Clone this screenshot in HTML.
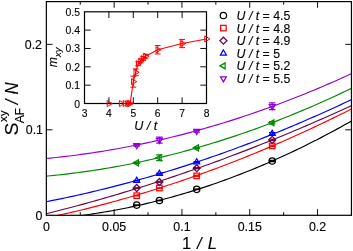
<!DOCTYPE html>
<html><head><meta charset="utf-8"><title>chart</title><style>html,body{margin:0;padding:0;background:#fff}body{width:353px;height:251px;overflow:hidden;font-family:"Liberation Sans",sans-serif}</style></head><body>
<svg width="353" height="251" viewBox="0 0 353 251" style="display:block;will-change:transform;opacity:0.999">
<rect width="353" height="251" fill="#fff"/>
<defs><clipPath id="c"><rect x="46.35" y="1.6" width="305.09999999999997" height="213.70000000000002"/></clipPath></defs>
<g clip-path="url(#c)" fill="none">
<path d="M46.35 219.08 L50.22 218.78 L54.10 218.46 L57.97 218.11 L61.85 217.74 L65.72 217.34 L69.60 216.92 L73.47 216.48 L77.35 216.01 L81.22 215.52 L85.10 215.00 L88.97 214.46 L92.85 213.89 L96.72 213.30 L100.60 212.69 L104.47 212.05 L108.34 211.39 L112.22 210.70 L116.09 209.99 L119.97 209.25 L123.84 208.49 L127.72 207.70 L131.59 206.89 L135.47 206.06 L139.34 205.20 L143.22 204.32 L147.09 203.41 L150.97 202.48 L154.84 201.53 L158.72 200.55 L162.59 199.54 L166.47 198.51 L170.34 197.46 L174.21 196.38 L178.09 195.28 L181.96 194.15 L185.84 193.00 L189.71 191.83 L193.59 190.63 L197.46 189.40 L201.34 188.16 L205.21 186.88 L209.09 185.59 L212.96 184.27 L216.84 182.92 L220.71 181.55 L224.59 180.16 L228.46 178.74 L232.33 177.29 L236.21 175.83 L240.08 174.34 L243.96 172.82 L247.83 171.28 L251.71 169.71 L255.58 168.13 L259.46 166.51 L263.33 164.87 L267.21 163.21 L271.08 161.53 L274.96 159.81 L278.83 158.08 L282.71 156.32 L286.58 154.54 L290.46 152.73 L294.33 150.89 L298.20 149.04 L302.08 147.16 L305.95 145.25 L309.83 143.32 L313.70 141.36 L317.58 139.39 L321.45 137.38 L325.33 135.35 L329.20 133.30 L333.08 131.23 L336.95 129.13 L340.83 127.00 L344.70 124.85 L348.58 122.68 L352.45 120.48" stroke="#000" stroke-width="1.15"/>
<path d="M46.35 217.90 L50.22 217.09 L54.10 216.26 L57.97 215.41 L61.85 214.55 L65.72 213.67 L69.60 212.78 L73.47 211.88 L77.35 210.96 L81.22 210.03 L85.10 209.08 L88.97 208.12 L92.85 207.14 L96.72 206.15 L100.60 205.14 L104.47 204.12 L108.34 203.08 L112.22 202.03 L116.09 200.97 L119.97 199.89 L123.84 198.80 L127.72 197.69 L131.59 196.57 L135.47 195.43 L139.34 194.28 L143.22 193.11 L147.09 191.93 L150.97 190.73 L154.84 189.52 L158.72 188.30 L162.59 187.06 L166.47 185.81 L170.34 184.54 L174.21 183.25 L178.09 181.96 L181.96 180.64 L185.84 179.32 L189.71 177.98 L193.59 176.62 L197.46 175.25 L201.34 173.87 L205.21 172.47 L209.09 171.05 L212.96 169.62 L216.84 168.18 L220.71 166.72 L224.59 165.25 L228.46 163.77 L232.33 162.26 L236.21 160.75 L240.08 159.22 L243.96 157.67 L247.83 156.11 L251.71 154.54 L255.58 152.95 L259.46 151.35 L263.33 149.73 L267.21 148.10 L271.08 146.45 L274.96 144.79 L278.83 143.11 L282.71 141.42 L286.58 139.72 L290.46 138.00 L294.33 136.26 L298.20 134.52 L302.08 132.75 L305.95 130.97 L309.83 129.18 L313.70 127.37 L317.58 125.55 L321.45 123.72 L325.33 121.87 L329.20 120.00 L333.08 118.12 L336.95 116.23 L340.83 114.32 L344.70 112.40 L348.58 110.46 L352.45 108.50" stroke="#ff0000" stroke-width="1.15"/>
<path d="M46.35 213.69 L50.22 212.72 L54.10 211.75 L57.97 210.77 L61.85 209.77 L65.72 208.77 L69.60 207.75 L73.47 206.72 L77.35 205.69 L81.22 204.64 L85.10 203.58 L88.97 202.51 L92.85 201.43 L96.72 200.35 L100.60 199.25 L104.47 198.13 L108.34 197.01 L112.22 195.88 L116.09 194.74 L119.97 193.59 L123.84 192.42 L127.72 191.25 L131.59 190.07 L135.47 188.87 L139.34 187.67 L143.22 186.45 L147.09 185.22 L150.97 183.99 L154.84 182.74 L158.72 181.48 L162.59 180.21 L166.47 178.93 L170.34 177.64 L174.21 176.34 L178.09 175.03 L181.96 173.71 L185.84 172.38 L189.71 171.04 L193.59 169.69 L197.46 168.32 L201.34 166.95 L205.21 165.56 L209.09 164.17 L212.96 162.76 L216.84 161.35 L220.71 159.92 L224.59 158.48 L228.46 157.04 L232.33 155.58 L236.21 154.11 L240.08 152.63 L243.96 151.14 L247.83 149.64 L251.71 148.13 L255.58 146.61 L259.46 145.08 L263.33 143.53 L267.21 141.98 L271.08 140.42 L274.96 138.84 L278.83 137.26 L282.71 135.66 L286.58 134.06 L290.46 132.44 L294.33 130.82 L298.20 129.18 L302.08 127.53 L305.95 125.87 L309.83 124.20 L313.70 122.53 L317.58 120.84 L321.45 119.14 L325.33 117.42 L329.20 115.70 L333.08 113.97 L336.95 112.23 L340.83 110.48 L344.70 108.71 L348.58 106.94 L352.45 105.15" stroke="#670748" stroke-width="1.15"/>
<path d="M46.35 201.69 L50.22 200.93 L54.10 200.16 L57.97 199.37 L61.85 198.57 L65.72 197.76 L69.60 196.93 L73.47 196.09 L77.35 195.23 L81.22 194.36 L85.10 193.48 L88.97 192.58 L92.85 191.67 L96.72 190.74 L100.60 189.81 L104.47 188.85 L108.34 187.89 L112.22 186.91 L116.09 185.91 L119.97 184.90 L123.84 183.88 L127.72 182.85 L131.59 181.80 L135.47 180.74 L139.34 179.66 L143.22 178.57 L147.09 177.46 L150.97 176.34 L154.84 175.21 L158.72 174.07 L162.59 172.91 L166.47 171.73 L170.34 170.55 L174.21 169.34 L178.09 168.13 L181.96 166.90 L185.84 165.66 L189.71 164.40 L193.59 163.13 L197.46 161.85 L201.34 160.55 L205.21 159.24 L209.09 157.91 L212.96 156.57 L216.84 155.22 L220.71 153.85 L224.59 152.47 L228.46 151.07 L232.33 149.67 L236.21 148.24 L240.08 146.81 L243.96 145.36 L247.83 143.89 L251.71 142.42 L255.58 140.92 L259.46 139.42 L263.33 137.90 L267.21 136.37 L271.08 134.82 L274.96 133.26 L278.83 131.68 L282.71 130.10 L286.58 128.49 L290.46 126.88 L294.33 125.25 L298.20 123.60 L302.08 121.95 L305.95 120.27 L309.83 118.59 L313.70 116.89 L317.58 115.18 L321.45 113.45 L325.33 111.71 L329.20 109.96 L333.08 108.19 L336.95 106.41 L340.83 104.61 L344.70 102.80 L348.58 100.98 L352.45 99.14" stroke="#0000ff" stroke-width="1.15"/>
<path d="M46.35 176.13 L50.22 175.77 L54.10 175.39 L57.97 174.99 L61.85 174.57 L65.72 174.13 L69.60 173.67 L73.47 173.19 L77.35 172.70 L81.22 172.18 L85.10 171.64 L88.97 171.09 L92.85 170.51 L96.72 169.92 L100.60 169.31 L104.47 168.67 L108.34 168.02 L112.22 167.35 L116.09 166.66 L119.97 165.95 L123.84 165.22 L127.72 164.47 L131.59 163.70 L135.47 162.91 L139.34 162.10 L143.22 161.28 L147.09 160.43 L150.97 159.56 L154.84 158.68 L158.72 157.77 L162.59 156.85 L166.47 155.90 L170.34 154.94 L174.21 153.96 L178.09 152.96 L181.96 151.94 L185.84 150.90 L189.71 149.84 L193.59 148.76 L197.46 147.66 L201.34 146.54 L205.21 145.40 L209.09 144.24 L212.96 143.07 L216.84 141.87 L220.71 140.66 L224.59 139.42 L228.46 138.17 L232.33 136.90 L236.21 135.60 L240.08 134.29 L243.96 132.96 L247.83 131.61 L251.71 130.24 L255.58 128.85 L259.46 127.44 L263.33 126.01 L267.21 124.56 L271.08 123.09 L274.96 121.61 L278.83 120.10 L282.71 118.57 L286.58 117.03 L290.46 115.46 L294.33 113.88 L298.20 112.28 L302.08 110.65 L305.95 109.01 L309.83 107.35 L313.70 105.67 L317.58 103.97 L321.45 102.25 L325.33 100.51 L329.20 98.75 L333.08 96.97 L336.95 95.18 L340.83 93.36 L344.70 91.52 L348.58 89.67 L352.45 87.79" stroke="#008b00" stroke-width="1.15"/>
<path d="M46.35 158.46 L50.22 158.09 L54.10 157.70 L57.97 157.29 L61.85 156.86 L65.72 156.41 L69.60 155.95 L73.47 155.46 L77.35 154.96 L81.22 154.44 L85.10 153.91 L88.97 153.35 L92.85 152.78 L96.72 152.19 L100.60 151.58 L104.47 150.95 L108.34 150.30 L112.22 149.64 L116.09 148.96 L119.97 148.26 L123.84 147.54 L127.72 146.80 L131.59 146.05 L135.47 145.28 L139.34 144.49 L143.22 143.68 L147.09 142.85 L150.97 142.01 L154.84 141.15 L158.72 140.27 L162.59 139.37 L166.47 138.45 L170.34 137.52 L174.21 136.56 L178.09 135.59 L181.96 134.60 L185.84 133.60 L189.71 132.57 L193.59 131.53 L197.46 130.47 L201.34 129.39 L205.21 128.29 L209.09 127.17 L212.96 126.04 L216.84 124.89 L220.71 123.72 L224.59 122.53 L228.46 121.33 L232.33 120.10 L236.21 118.86 L240.08 117.60 L243.96 116.32 L247.83 115.03 L251.71 113.71 L255.58 112.38 L259.46 111.03 L263.33 109.66 L267.21 108.27 L271.08 106.87 L274.96 105.45 L278.83 104.00 L282.71 102.55 L286.58 101.07 L290.46 99.57 L294.33 98.06 L298.20 96.53 L302.08 94.98 L305.95 93.41 L309.83 91.83 L313.70 90.22 L317.58 88.60 L321.45 86.96 L325.33 85.30 L329.20 83.63 L333.08 81.93 L336.95 80.22 L340.83 78.49 L344.70 76.74 L348.58 74.98 L352.45 73.19" stroke="#9400d3" stroke-width="1.15"/>
</g>
<path d="M133.50 205.10h6.4" stroke="#000" stroke-width="1.75" fill="none"/>
<circle cx="136.70" cy="205.10" r="3.2" fill="none" stroke="#000" stroke-width="1.25"/>
<path d="M156.20 200.50h6.4" stroke="#000" stroke-width="1.75" fill="none"/>
<circle cx="159.40" cy="200.50" r="3.2" fill="none" stroke="#000" stroke-width="1.25"/>
<path d="M193.50 189.30h6.4" stroke="#000" stroke-width="1.75" fill="none"/>
<circle cx="196.70" cy="189.30" r="3.2" fill="none" stroke="#000" stroke-width="1.25"/>
<path d="M272.20 160.40V161.60M269.00 160.40h6.4M269.00 161.60h6.4" stroke="#000" stroke-width="1.25" fill="none"/>
<circle cx="272.20" cy="161.00" r="3.2" fill="none" stroke="#000" stroke-width="1.25"/>
<path d="M133.50 195.70h6.4" stroke="#ff0000" stroke-width="1.75" fill="none"/>
<rect x="133.95" y="192.95" width="5.5" height="5.5" fill="none" stroke="#ff0000" stroke-width="1.25"/>
<path d="M156.20 188.00h6.4" stroke="#ff0000" stroke-width="1.75" fill="none"/>
<rect x="156.65" y="185.25" width="5.5" height="5.5" fill="none" stroke="#ff0000" stroke-width="1.25"/>
<path d="M196.70 175.40V176.40M193.50 175.40h6.4M193.50 176.40h6.4" stroke="#ff0000" stroke-width="1.25" fill="none"/>
<rect x="193.95" y="173.15" width="5.5" height="5.5" fill="none" stroke="#ff0000" stroke-width="1.25"/>
<path d="M272.20 145.10V146.70M269.00 145.10h6.4M269.00 146.70h6.4" stroke="#ff0000" stroke-width="1.25" fill="none"/>
<rect x="269.45" y="143.15" width="5.5" height="5.5" fill="none" stroke="#ff0000" stroke-width="1.25"/>
<path d="M133.50 188.00h6.4" stroke="#670748" stroke-width="1.75" fill="none"/>
<polygon points="133.20,188.00 136.70,184.50 140.20,188.00 136.70,191.50" fill="none" stroke="#670748" stroke-width="1.25" stroke-linejoin="miter"/>
<path d="M156.20 182.00h6.4" stroke="#670748" stroke-width="1.75" fill="none"/>
<polygon points="155.90,182.00 159.40,178.50 162.90,182.00 159.40,185.50" fill="none" stroke="#670748" stroke-width="1.25" stroke-linejoin="miter"/>
<path d="M196.70 167.70V168.70M193.50 167.70h6.4M193.50 168.70h6.4" stroke="#670748" stroke-width="1.25" fill="none"/>
<polygon points="193.20,168.20 196.70,164.70 200.20,168.20 196.70,171.70" fill="none" stroke="#670748" stroke-width="1.25" stroke-linejoin="miter"/>
<path d="M272.20 139.10V140.70M269.00 139.10h6.4M269.00 140.70h6.4" stroke="#670748" stroke-width="1.25" fill="none"/>
<polygon points="268.70,139.90 272.20,136.40 275.70,139.90 272.20,143.40" fill="none" stroke="#670748" stroke-width="1.25" stroke-linejoin="miter"/>
<path d="M133.50 180.70h6.4" stroke="#0000ff" stroke-width="1.75" fill="none"/>
<polygon points="136.70,177.29 133.75,182.40 139.65,182.40" fill="none" stroke="#0000ff" stroke-width="1.25" stroke-linejoin="miter"/>
<path d="M159.40 173.10V174.10M156.20 173.10h6.4M156.20 174.10h6.4" stroke="#0000ff" stroke-width="1.25" fill="none"/>
<polygon points="159.40,170.19 156.45,175.30 162.35,175.30" fill="none" stroke="#0000ff" stroke-width="1.25" stroke-linejoin="miter"/>
<path d="M196.70 161.70V162.70M193.50 161.70h6.4M193.50 162.70h6.4" stroke="#0000ff" stroke-width="1.25" fill="none"/>
<polygon points="196.70,158.79 193.75,163.90 199.65,163.90" fill="none" stroke="#0000ff" stroke-width="1.25" stroke-linejoin="miter"/>
<path d="M272.20 132.60V134.60M269.00 132.60h6.4M269.00 134.60h6.4" stroke="#0000ff" stroke-width="1.25" fill="none"/>
<polygon points="272.20,130.19 269.25,135.30 275.15,135.30" fill="none" stroke="#0000ff" stroke-width="1.25" stroke-linejoin="miter"/>
<path d="M136.70 162.40V163.40M133.50 162.40h6.4M133.50 163.40h6.4" stroke="#008b00" stroke-width="1.25" fill="none"/>
<polygon points="133.29,162.90 138.40,159.95 138.40,165.85" fill="none" stroke="#008b00" stroke-width="1.25" stroke-linejoin="miter"/>
<path d="M159.40 154.80V160.60M156.20 154.80h6.4M156.20 160.60h6.4" stroke="#008b00" stroke-width="1.25" fill="none"/>
<polygon points="155.99,157.70 161.10,154.75 161.10,160.65" fill="none" stroke="#008b00" stroke-width="1.25" stroke-linejoin="miter"/>
<path d="M196.70 147.30V148.50M193.50 147.30h6.4M193.50 148.50h6.4" stroke="#008b00" stroke-width="1.25" fill="none"/>
<polygon points="193.29,147.90 198.40,144.95 198.40,150.85" fill="none" stroke="#008b00" stroke-width="1.25" stroke-linejoin="miter"/>
<path d="M272.20 121.50V123.90M269.00 121.50h6.4M269.00 123.90h6.4" stroke="#008b00" stroke-width="1.25" fill="none"/>
<polygon points="268.79,122.70 273.90,119.75 273.90,125.65" fill="none" stroke="#008b00" stroke-width="1.25" stroke-linejoin="miter"/>
<path d="M136.70 144.60V146.20M133.50 144.60h6.4M133.50 146.20h6.4" stroke="#9400d3" stroke-width="1.25" fill="none"/>
<polygon points="136.70,148.81 133.75,143.70 139.65,143.70" fill="none" stroke="#9400d3" stroke-width="1.25" stroke-linejoin="miter"/>
<path d="M159.40 137.00V143.00M156.20 137.00h6.4M156.20 143.00h6.4" stroke="#9400d3" stroke-width="1.25" fill="none"/>
<polygon points="159.40,143.41 156.45,138.30 162.35,138.30" fill="none" stroke="#9400d3" stroke-width="1.25" stroke-linejoin="miter"/>
<path d="M196.70 130.00V132.00M193.50 130.00h6.4M193.50 132.00h6.4" stroke="#9400d3" stroke-width="1.25" fill="none"/>
<polygon points="196.70,134.41 193.75,129.30 199.65,129.30" fill="none" stroke="#9400d3" stroke-width="1.25" stroke-linejoin="miter"/>
<path d="M272.20 102.90V109.70M269.00 102.90h6.4M269.00 109.70h6.4" stroke="#9400d3" stroke-width="1.25" fill="none"/>
<polygon points="272.20,109.71 269.25,104.60 275.15,104.60" fill="none" stroke="#9400d3" stroke-width="1.25" stroke-linejoin="miter"/>
<path d="M130.13 103.50 L133.30 81.68 L135.74 72.32 L138.18 63.70 L140.62 60.95 L143.06 58.57 L145.50 56.18 L157.70 49.76 L182.10 43.53 L206.50 38.94" stroke="#ff0000" stroke-width="1.1" fill="none"/>
<g stroke="#000" stroke-width="1.2" fill="none">
<rect x="46.35" y="1.6" width="305.09999999999997" height="213.70000000000002"/>
<path d="M114.15 215.3v-6.2M114.15 1.6v6.2M181.95 215.3v-6.2M181.95 1.6v6.2M249.75 215.3v-6.2M249.75 1.6v6.2M317.55 215.3v-6.2M317.55 1.6v6.2M80.25 215.3v-3.1M80.25 1.6v3.1M148.05 215.3v-3.1M148.05 1.6v3.1M215.85 215.3v-3.1M215.85 1.6v3.1M283.65 215.3v-3.1M283.65 1.6v3.1M351.45 215.3v-3.1M351.45 1.6v3.1M46.35 129.82h6.2M351.45 129.82h-6.2M46.35 44.34h6.2M351.45 44.34h-6.2" stroke-width="0.95"/>
<rect x="84.5" y="11.8" width="122.0" height="91.7"/>
<path d="M108.90 103.5v-6.2M108.90 11.8v6.2M133.30 103.5v-6.2M133.30 11.8v6.2M157.70 103.5v-6.2M157.70 11.8v6.2M182.10 103.5v-6.2M182.10 11.8v6.2M84.5 85.16h6.2M206.5 85.16h-6.2M84.5 66.82h6.2M206.5 66.82h-6.2M84.5 48.48h6.2M206.5 48.48h-6.2M84.5 30.14h6.2M206.5 30.14h-6.2" stroke-width="0.95"/>
</g>
<polygon points="112.36,103.50 107.17,100.50 107.17,106.50" fill="none" stroke="#ff0000" stroke-width="1.0" stroke-linejoin="miter"/>
<polygon points="124.56,103.50 119.37,100.50 119.37,106.50" fill="none" stroke="#ff0000" stroke-width="1.0" stroke-linejoin="miter"/>
<polygon points="128.47,103.50 123.27,100.50 123.27,106.50" fill="none" stroke="#ff0000" stroke-width="1.0" stroke-linejoin="miter"/>
<polygon points="130.91,103.50 125.71,100.50 125.71,106.50" fill="none" stroke="#ff0000" stroke-width="1.0" stroke-linejoin="miter"/>
<polygon points="132.37,103.50 127.18,100.50 127.18,106.50" fill="none" stroke="#ff0000" stroke-width="1.0" stroke-linejoin="miter"/>
<polygon points="133.59,103.50 128.40,100.50 128.40,106.50" fill="none" stroke="#ff0000" stroke-width="1.0" stroke-linejoin="miter"/>
<path d="M133.30 76.18V87.18M130.40 76.18h5.8M130.40 87.18h5.8" stroke="#ff0000" stroke-width="1.0" fill="none"/>
<polygon points="136.76,81.68 131.57,78.68 131.57,84.68" fill="none" stroke="#ff0000" stroke-width="1.0" stroke-linejoin="miter"/>
<path d="M135.74 68.92V75.72M132.84 68.92h5.8M132.84 75.72h5.8" stroke="#ff0000" stroke-width="1.0" fill="none"/>
<polygon points="139.20,72.32 134.01,69.32 134.01,75.32" fill="none" stroke="#ff0000" stroke-width="1.0" stroke-linejoin="miter"/>
<path d="M138.18 61.70V65.70M135.28 61.70h5.8M135.28 65.70h5.8" stroke="#ff0000" stroke-width="1.0" fill="none"/>
<polygon points="141.64,63.70 136.45,60.70 136.45,66.70" fill="none" stroke="#ff0000" stroke-width="1.0" stroke-linejoin="miter"/>
<path d="M140.62 59.15V62.75M137.72 59.15h5.8M137.72 62.75h5.8" stroke="#ff0000" stroke-width="1.0" fill="none"/>
<polygon points="144.08,60.95 138.89,57.95 138.89,63.95" fill="none" stroke="#ff0000" stroke-width="1.0" stroke-linejoin="miter"/>
<path d="M143.06 56.77V60.37M140.16 56.77h5.8M140.16 60.37h5.8" stroke="#ff0000" stroke-width="1.0" fill="none"/>
<polygon points="146.52,58.57 141.33,55.57 141.33,61.57" fill="none" stroke="#ff0000" stroke-width="1.0" stroke-linejoin="miter"/>
<path d="M145.50 54.18V58.18M142.60 54.18h5.8M142.60 58.18h5.8" stroke="#ff0000" stroke-width="1.0" fill="none"/>
<polygon points="148.96,56.18 143.77,53.18 143.77,59.18" fill="none" stroke="#ff0000" stroke-width="1.0" stroke-linejoin="miter"/>
<path d="M157.70 45.56V53.96M154.80 45.56h5.8M154.80 53.96h5.8" stroke="#ff0000" stroke-width="1.0" fill="none"/>
<polygon points="161.16,49.76 155.97,46.76 155.97,52.76" fill="none" stroke="#ff0000" stroke-width="1.0" stroke-linejoin="miter"/>
<path d="M182.10 39.43V47.63M179.20 39.43h5.8M179.20 47.63h5.8" stroke="#ff0000" stroke-width="1.0" fill="none"/>
<polygon points="185.56,43.53 180.37,40.53 180.37,46.53" fill="none" stroke="#ff0000" stroke-width="1.0" stroke-linejoin="miter"/>
<polygon points="209.96,38.94 204.77,35.94 204.77,41.94" fill="none" stroke="#ff0000" stroke-width="1.0" stroke-linejoin="miter"/>
<g font-family="Liberation Sans, sans-serif" fill="#000" stroke="#000" stroke-width="0.12">
<text x="46.35" y="231.0" font-size="12.4" text-anchor="middle">0</text>
<text x="114.15" y="231.0" font-size="12.4" text-anchor="middle">0.05</text>
<text x="181.95" y="231.0" font-size="12.4" text-anchor="middle">0.1</text>
<text x="249.75" y="231.0" font-size="12.4" text-anchor="middle">0.15</text>
<text x="317.55" y="231.0" font-size="12.4" text-anchor="middle">0.2</text>
<text x="42.4" y="219.50" font-size="12.4" text-anchor="end">0</text>
<text x="43.0" y="134.02" font-size="12.4" text-anchor="end">0.1</text>
<text x="42.0" y="48.54" font-size="12.4" text-anchor="end">0.2</text>
<text x="84.50" y="117.4" font-size="10.3" text-anchor="middle">3</text>
<text x="108.90" y="117.4" font-size="10.3" text-anchor="middle">4</text>
<text x="133.30" y="117.4" font-size="10.3" text-anchor="middle">5</text>
<text x="157.70" y="117.4" font-size="10.3" text-anchor="middle">6</text>
<text x="182.10" y="117.4" font-size="10.3" text-anchor="middle">7</text>
<text x="206.50" y="117.4" font-size="10.3" text-anchor="middle">8</text>
<text x="80" y="107.50" font-size="10.4" text-anchor="end">0</text>
<text x="80" y="89.16" font-size="10.4" text-anchor="end">0.1</text>
<text x="80" y="70.82" font-size="10.4" text-anchor="end">0.2</text>
<text x="80" y="52.48" font-size="10.4" text-anchor="end">0.3</text>
<text x="80" y="34.14" font-size="10.4" text-anchor="end">0.4</text>
<text x="80" y="15.80" font-size="10.4" text-anchor="end">0.5</text>
<text x="134.2" y="129.5" font-size="12.6" font-style="italic">U / t</text>
<g transform="translate(57.0,67.2) rotate(-90)"><text x="0" y="0" font-size="12.2" font-style="italic">m</text><text x="10.3" y="4.3" font-size="9.4" font-style="italic">xy</text></g>
<text y="248.6" font-size="16.5"><tspan x="182.0">1</tspan><tspan x="197.0" font-style="italic">/</tspan><tspan x="207.7" font-style="italic">L</tspan></text>
<g transform="translate(18.1,134.9) rotate(-90)"><text x="0" y="0" font-size="17.6" transform="translate(-0.6,0.3) scale(1.1,1)">S</text><text x="12.9" y="-10.9" font-size="11.6">xy</text><text x="11.6" y="6.2" font-size="12.3" letter-spacing="-0.3">AF</text><text x="0" y="0" font-size="17.6" font-style="italic" transform="translate(30.6,0.3) scale(0.95,1)">/</text><text x="0" y="0" font-size="17.6" font-style="italic" transform="translate(40.4,0.3) scale(0.95,1)">N</text></g>
<text x="236.6" y="19.90" font-size="12.3"><tspan font-style="italic">U / t</tspan> = 4.5</text>
<text x="236.6" y="32.50" font-size="12.3"><tspan font-style="italic">U / t</tspan> = 4.8</text>
<text x="236.6" y="45.10" font-size="12.3"><tspan font-style="italic">U / t</tspan> = 4.9</text>
<text x="236.6" y="57.70" font-size="12.3"><tspan font-style="italic">U / t</tspan> = 5</text>
<text x="236.6" y="70.30" font-size="12.3"><tspan font-style="italic">U / t</tspan> = 5.2</text>
<text x="236.6" y="82.90" font-size="12.3"><tspan font-style="italic">U / t</tspan> = 5.5</text>
</g>
<circle cx="223.40" cy="15.50" r="3.2" fill="none" stroke="#000" stroke-width="1.25"/>
<rect x="220.65" y="25.35" width="5.5" height="5.5" fill="none" stroke="#ff0000" stroke-width="1.25"/>
<polygon points="219.90,40.70 223.40,37.20 226.90,40.70 223.40,44.20" fill="none" stroke="#670748" stroke-width="1.25" stroke-linejoin="miter"/>
<polygon points="223.40,49.89 220.45,55.00 226.35,55.00" fill="none" stroke="#0000ff" stroke-width="1.25" stroke-linejoin="miter"/>
<polygon points="219.99,65.90 225.10,62.95 225.10,68.85" fill="none" stroke="#008b00" stroke-width="1.25" stroke-linejoin="miter"/>
<polygon points="223.40,81.91 220.45,76.80 226.35,76.80" fill="none" stroke="#9400d3" stroke-width="1.25" stroke-linejoin="miter"/>
</svg>
</body></html>
